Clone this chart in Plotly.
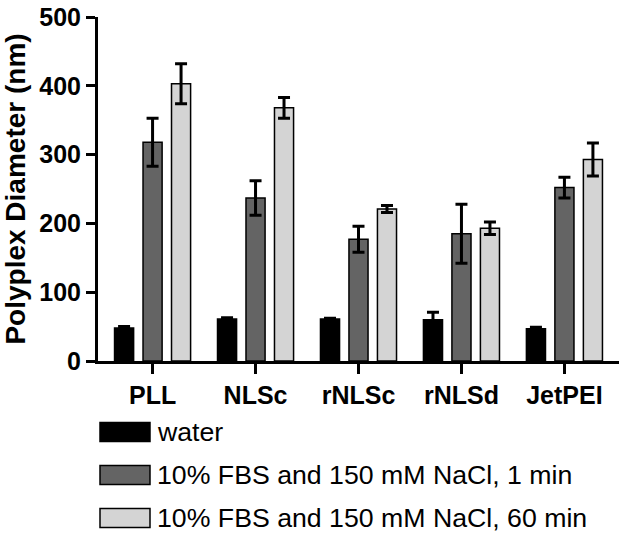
import plotly.graph_objects as go

categories = ["PLL", "NLSc", "rNLSc", "rNLSd", "JetPEI"]
series_names = ["water", "10% FBS and 150 mM NaCl, 1 min", "10% FBS and 150 mM NaCl, 60 min"]
water = [48, 61, 61, 60, 47]
water_err = [2, 2, 1, 11, 2]
fbs_1min = [318, 237, 177, 185, 252]
fbs_1min_err = [35, 25, 19, 43, 15]
fbs_60min = [403, 368, 221, 193, 293]
fbs_60min_err = [29, 15, 5, 9, 24]
y_ticks = [0, 100, 200, 300, 400, 500]

colors = ["#000000", "#646464", "#d4d4d4"]
FONT = "Liberation Sans, Arial, sans-serif"

W, H = 629, 540
L, R, T, B = 98, 10, 17, 179

fig = go.Figure()
for name, vals, errs, col in zip(series_names,
                                 [water, fbs_1min, fbs_60min],
                                 [water_err, fbs_1min_err, fbs_60min_err],
                                 colors):
    fig.add_trace(go.Bar(
        x=categories, y=vals, name=name,
        marker=dict(color=col, line=dict(color="black", width=1.5)),
        error_y=dict(type="data", array=errs, visible=True, color="black",
                     thickness=3, width=6),
        showlegend=False,
    ))

# custom legend (large swatches as in the reference)
pw = W - L - R
ph = H - T - B
def px_x(x):
    return (x - L) / pw
def px_y(y):
    return (H - B - y) / ph

legend_rows = [432, 475, 518]
for name, col, yc in zip(series_names, colors, legend_rows):
    fig.add_shape(type="rect", xref="paper", yref="paper",
                  x0=px_x(100), x1=px_x(150), y0=px_y(yc + 9.5), y1=px_y(yc - 9.5),
                  fillcolor=col, line=dict(color="black", width=1.5))
    fig.add_annotation(xref="paper", yref="paper", x=px_x(155), y=px_y(yc),
                       text=name, showarrow=False, xanchor="left", yanchor="middle",
                       font=dict(family=FONT, size=26.7, color="black"))

fig.update_layout(
    width=W, height=H,
    margin=dict(l=L, r=R, t=T, b=B, autoexpand=False),
    paper_bgcolor="white", plot_bgcolor="white",
    barmode="group", bargap=0.17, bargroupgap=0.33,
    font=dict(family=FONT, color="black"),
)
fig.update_xaxes(
    range=[-0.53, 4.53], showline=True, linecolor="black", linewidth=3,
    ticks="outside", ticklen=10, tickwidth=3, tickcolor="black",
    tickfont=dict(family=FONT, size=25, weight="bold", color="black"),
    showgrid=False, zeroline=False, automargin=False,
)
fig.update_yaxes(
    range=[0, 500], tickvals=y_ticks, showline=True, linecolor="black", linewidth=3,
    ticks="outside", ticklen=9, tickwidth=3, tickcolor="black",
    tickfont=dict(family=FONT, size=25, weight="bold", color="black"),
    showgrid=False, zeroline=False, automargin=False,
    title=dict(text="Polyplex Diameter (nm)", standoff=6,
               font=dict(family=FONT, size=28, weight="bold", color="black")),
)

fig.write_html("out.html", config={"displayModeBar": False},
               post_script="document.body.style.margin='0';document.body.style.overflow='hidden';")
